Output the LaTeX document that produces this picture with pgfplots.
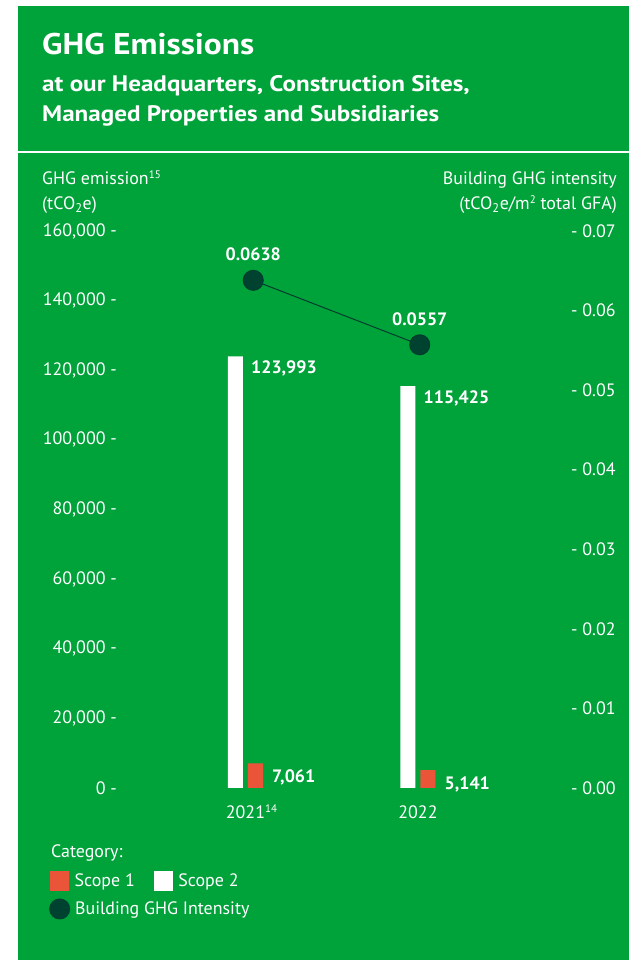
\documentclass[border=0pt]{standalone}
\usepackage{fontspec}
\setmainfont{PT Sans}
\newfontfamily\titlefont{PT Sans}[FakeStretch=1.12]
\usepackage{pgfplots}
\pgfplotsset{compat=1.18}
\definecolor{bg}{RGB}{0,162,58}
\definecolor{scopeone}{RGB}{234,85,58}
\definecolor{dotgreen}{RGB}{0,66,48}
\definecolor{linegreen}{RGB}{0,60,45}
\newcommand\tickfont{\fontsize{18}{21}\selectfont}
\newcommand\labfont{\bfseries\fontsize{18}{21}\selectfont}
\newcommand\supsize{\fontsize{11}{12}\selectfont}
\begin{document}
\begin{tikzpicture}
\useasboundingbox (0,0) rectangle (629bp,960bp);
\fill[white] (0,0) rectangle (629bp,960bp);
\fill[bg] (18bp,0) rectangle (629bp,954bp);
\draw[white, line width=2bp] (18bp,808bp) -- (629bp,808bp);
\node[anchor=base west, inner sep=0, text=white, font=\titlefont\bfseries\fontsize{30}{34}\selectfont] at (42bp,905bp) {GHG Emissions};
\node[anchor=base west, inner sep=0, text=white, font=\titlefont\bfseries\fontsize{22.5}{25}\selectfont] at (42bp,868bp) {at our Headquarters, Construction Sites,};
\node[anchor=base west, inner sep=0, text=white, font=\titlefont\bfseries\fontsize{22.5}{25}\selectfont] at (42bp,838bp) {Managed Properties and Subsidiaries};
\node[anchor=base west, inner sep=0, text=white, font=\tickfont] at (42bp,775bp) {GHG emission\raisebox{6bp}{\supsize 15}};
\node[anchor=base west, inner sep=0, text=white, font=\tickfont] at (42bp,750bp) {(tCO\textsubscript{2}e)};
\node[anchor=base east, inner sep=0, text=white, font=\tickfont] at (617bp,775bp) {Building GHG intensity};
\node[anchor=base east, inner sep=0, text=white, font=\tickfont] at (617bp,750bp) {(tCO\textsubscript{2}e/m\raisebox{6bp}{\supsize 2} total GFA)};
\node[anchor=base west, inner sep=0, text=white, font=\tickfont] at (51bp,102bp) {Category:};
\begin{axis}[
  at={(117bp,172bp)}, anchor=south west, scale only axis,
  width=454bp, height=557bp,
  xmin=-0.7449, xmax=1.887, ymin=0, ymax=160000,
  axis line style={draw=none}, tick style={draw=none},
  ytick={0,20000,40000,60000,80000,100000,120000,140000,160000},
  yticklabels={0 -,{20,000 -},{40,000 -},{60,000 -},{80,000 -},{100,000 -},{120,000 -},{140,000 -},{160,000 -}},
  yticklabel style={font=\tickfont, text=white, inner xsep=0pt, anchor=east},
  xtick={0,1}, xticklabels={2021\rlap{\raisebox{6bp}{\supsize 14}},2022},
  xticklabel style={font=\tickfont, text=white, anchor=base, yshift=-31bp},
  scaled y ticks=false,
  legend columns=2,
  legend style={draw=none, fill=none, inner xsep=0pt, inner ysep=0pt,
    at={(axis description cs:-0.1476,-0.16697)}, anchor=west,
    font=\tickfont, text=white,
    /tikz/every odd column/.append style={column sep=3.5bp},
    /tikz/every even column/.append style={column sep=17bp}},
  clip=false,
]
\addplot[ybar, bar width=15bp, bar shift=10bp, fill=scopeone, draw=none,
  point meta=explicit symbolic, nodes near coords,
  every node near coord/.append style={anchor=west, inner sep=0pt, xshift=26.5bp, yshift=-14bp, font=\labfont, text=white},
  legend image code/.code={\fill[scopeone] (0bp,-10bp) rectangle (19bp,10bp);}]
  coordinates {(0,7061) [7,061] (1,5141) [5,141]};
\addlegendentry{Scope 1}
\addplot[ybar, bar width=15bp, bar shift=-10bp, fill=white, draw=none,
  point meta=explicit symbolic, nodes near coords,
  every node near coord/.append style={anchor=north west, inner sep=0pt, xshift=5.5bp, yshift=-4bp, font=\labfont, text=white},
  legend image code/.code={\fill[white] (0bp,-10bp) rectangle (19bp,10bp);}]
  coordinates {(0,123993) [123,993] (1,115425) [115,425]};
\addlegendentry{Scope 2}
\end{axis}
\begin{axis}[
  at={(117bp,172bp)}, anchor=south west, scale only axis,
  width=454bp, height=557bp,
  xmin=-0.7449, xmax=1.887, ymin=0, ymax=0.07,
  axis x line=none, axis y line*=right,
  axis line style={draw=none}, tick style={draw=none},
  ytick={0,0.01,0.02,0.03,0.04,0.05,0.06,0.07},
  yticklabels={- 0.00,- 0.01,- 0.02,- 0.03,- 0.04,- 0.05,- 0.06,- 0.07},
  yticklabel style={font=\tickfont, text=white, inner xsep=0pt, anchor=west},
  scaled y ticks=false,
  legend style={draw=none, fill=none, inner xsep=0pt, inner ysep=0pt,
    at={(axis description cs:-0.1498,-0.2172)}, anchor=west,
    font=\tickfont, text=white,
    /tikz/every odd column/.append style={column sep=3bp}},
  clip=false,
]
\addplot[linegreen, line width=1bp, mark=*, mark size=10bp,
  mark options={fill=dotgreen, draw=none, solid},
  point meta=explicit symbolic, nodes near coords,
  every node near coord/.append style={anchor=south, inner sep=0pt, yshift=19bp, font=\labfont, text=white},
  legend image code/.code={\fill[dotgreen] (10bp,0bp) circle (10bp);}]
  coordinates {(0.045,0.0638) [0.0638] (1.01,0.0557) [0.0557]};
\addlegendentry{Building GHG Intensity}
\end{axis}
\end{tikzpicture}
\end{document}
